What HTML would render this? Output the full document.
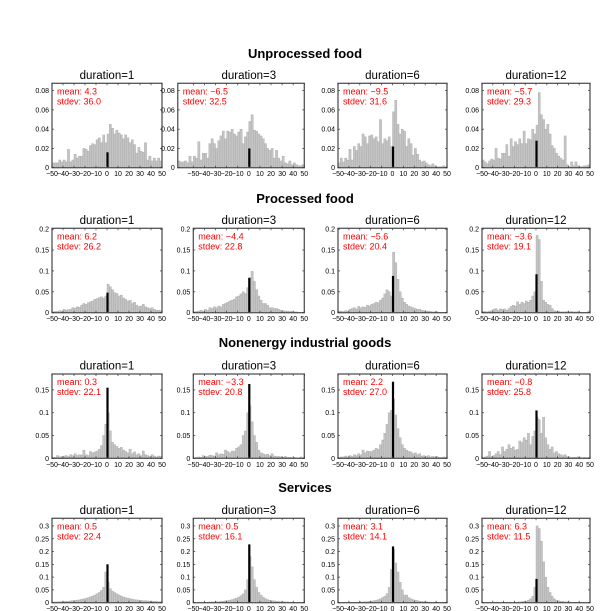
<!DOCTYPE html>
<html><head><meta charset="utf-8"><style>
html,body{margin:0;padding:0;background:#fff;}
svg{display:block;font-family:"Liberation Sans",sans-serif;}
</style></head><body>
<svg id="c" width="600" height="611" viewBox="0 0 600 611"></svg>
<script>
const rowTitles=["Unprocessed food","Processed food","Nonenergy industrial goods","Services"];
const durations=[1,3,6,12];
const means=[["4.3","\u22126.5","\u22129.5","\u22125.7"],["6.2","\u22124.4","\u22125.6","\u22123.6"],["0.3","\u22123.3","2.2","\u22120.8"],["0.5","0.5","3.1","6.3"]];
const stdevs=[["36.0","32.5","31.6","29.3"],["26.2","22.8","20.4","19.1"],["22.1","20.8","27.0","25.8"],["22.4","16.1","14.1","11.5"]];
const yMax=[0.0876,0.202,0.185,0.33];
const yTicks=[[0,0.02,0.04,0.06,0.08],[0,0.05,0.1,0.15,0.2],[0,0.05,0.1,0.15],[0,0.05,0.1,0.15,0.2,0.25,0.3]];
const yTickLabels=[["0","0.02","0.04","0.06","0.08"],["0","0.05","0.1","0.15","0.2"],["0","0.05","0.1","0.15"],["0","0.05","0.1","0.15","0.2","0.25","0.3"]];
const xTicks=[-50,-40,-30,-20,-10,0,10,20,30,40,50];
// negative-side bins (ending at 0), zero-change bar, positive-side bins (starting at 0)
const neg=[
[[0.005,0.005,0.005,0.008,0.006,0.008,0.006,0.019,0.006,0.008,0.014,0.010,0.012,0.012,0.020,0.019,0.017,0.023,0.025,0.024,0.029,0.031,0.026,0.034,0.026],
 [0.007,0.006,0.006,0.007,0.005,0.012,0.006,0.012,0.010,0.027,0.008,0.015,0.015,0.010,0.025,0.030,0.025,0.020,0.028,0.033,0.038,0.030,0.038,0.037,0.040,0.035,0.033,0.037,0.040,0.025,0.032,0.037],
 [0.005,0.010,0.006,0.010,0.008,0.019,0.008,0.022,0.018,0.025,0.022,0.035,0.032,0.025,0.033,0.034,0.030,0.032,0.027,0.050,0.025,0.030,0.028,0.032,0.022],
 [0.008,0.006,0.004,0.007,0.009,0.008,0.020,0.010,0.009,0.015,0.015,0.024,0.012,0.030,0.022,0.027,0.024,0.030,0.025,0.038,0.025,0.030,0.029,0.040,0.035]],
[[0.002,0.003,0.003,0.005,0.004,0.008,0.006,0.007,0.008,0.012,0.011,0.014,0.013,0.018,0.022,0.020,0.024,0.026,0.028,0.032,0.034,0.036,0.038,0.035,0.040],
 [0.002,0.003,0.004,0.006,0.004,0.008,0.006,0.012,0.010,0.014,0.012,0.016,0.014,0.020,0.022,0.025,0.028,0.030,0.032,0.038,0.040,0.045,0.050,0.046,0.060],
 [0.004,0.004,0.003,0.005,0.004,0.008,0.010,0.012,0.009,0.015,0.012,0.014,0.013,0.018,0.016,0.020,0.022,0.025,0.024,0.030,0.035,0.045,0.055,0.050,0.040],
 [0.003,0.003,0.002,0.004,0.005,0.008,0.010,0.006,0.009,0.008,0.009,0.006,0.010,0.015,0.018,0.016,0.026,0.020,0.025,0.022,0.028,0.025,0.030,0.040,0.050]],
[[0.002,0.002,0.006,0.003,0.004,0.005,0.006,0.004,0.008,0.006,0.010,0.006,0.008,0.007,0.018,0.008,0.006,0.015,0.012,0.014,0.016,0.020,0.028,0.050,0.075],
 [0.001,0.002,0.003,0.002,0.006,0.004,0.004,0.007,0.006,0.005,0.012,0.008,0.010,0.009,0.018,0.015,0.012,0.016,0.015,0.022,0.025,0.030,0.050,0.060,0.100],
 [0.002,0.003,0.003,0.005,0.003,0.006,0.004,0.008,0.006,0.010,0.008,0.018,0.012,0.016,0.015,0.015,0.018,0.022,0.020,0.030,0.040,0.055,0.075,0.100,0.105],
 [0.002,0.003,0.005,0.015,0.004,0.006,0.010,0.015,0.008,0.025,0.015,0.020,0.030,0.022,0.025,0.018,0.020,0.038,0.035,0.045,0.040,0.055,0.030,0.048,0.060]],
[[0.002,0.003,0.003,0.004,0.004,0.005,0.006,0.006,0.007,0.008,0.009,0.010,0.011,0.013,0.015,0.017,0.020,0.023,0.026,0.030,0.035,0.040,0.048,0.060,0.120],
 [0.001,0.001,0.001,0.001,0.002,0.002,0.002,0.003,0.003,0.003,0.004,0.004,0.005,0.006,0.007,0.008,0.010,0.012,0.015,0.018,0.022,0.028,0.035,0.050,0.090],
 [0.001,0.001,0.001,0.001,0.001,0.001,0.002,0.002,0.002,0.002,0.003,0.003,0.004,0.004,0.005,0.006,0.008,0.010,0.012,0.015,0.020,0.025,0.035,0.060,0.130],
 [0.001,0.001,0.001,0.001,0.001,0.001,0.001,0.001,0.001,0.001,0.001,0.001,0.001,0.001,0.001,0.002,0.002,0.003,0.004,0.005,0.006,0.010,0.015,0.025,0.060]]
];
const zeroBar=[[0.016,0.020,0.022,0.028],[0.048,0.083,0.088,0.092],[0.155,0.163,0.168,0.105],[0.150,0.228,0.220,0.093]];
const pos=[
[[0.035,0.045,0.041,0.035,0.039,0.036,0.034,0.030,0.034,0.031,0.026,0.029,0.024,0.015,0.021,0.017,0.016,0.026,0.008,0.012,0.007,0.010,0.007,0.010,0.007],
 [0.048,0.055,0.039,0.038,0.035,0.033,0.030,0.025,0.020,0.018,0.020,0.010,0.018,0.010,0.007,0.012,0.005,0.004,0.007,0.003,0.005,0.003,0.002,0.002,0.003],
 [0.058,0.070,0.045,0.035,0.040,0.038,0.022,0.030,0.025,0.013,0.020,0.014,0.008,0.006,0.007,0.005,0.003,0.002,0.004,0.002,0.001,0.001,0.001,0.002,0.001],
 [0.044,0.078,0.055,0.050,0.040,0.045,0.035,0.023,0.020,0.015,0.012,0.010,0.008,0.033,0.003,0.001,0.006,0.002,0.006,0.002,0.001,0.001,0.002,0.002,0.003]],
[[0.068,0.062,0.055,0.048,0.046,0.040,0.042,0.035,0.032,0.028,0.030,0.022,0.025,0.018,0.015,0.016,0.020,0.014,0.012,0.010,0.012,0.008,0.006,0.006,0.005],
 [0.085,0.099,0.075,0.055,0.040,0.030,0.022,0.022,0.018,0.012,0.012,0.010,0.010,0.008,0.006,0.005,0.004,0.004,0.003,0.003,0.002,0.002,0.001,0.001,0.001],
 [0.145,0.120,0.080,0.050,0.035,0.025,0.020,0.016,0.014,0.012,0.010,0.008,0.008,0.006,0.005,0.004,0.004,0.003,0.002,0.002,0.002,0.001,0.001,0.001,0.001],
 [0.185,0.175,0.075,0.030,0.025,0.020,0.018,0.010,0.005,0.004,0.004,0.002,0.002,0.002,0.003,0.002,0.003,0.002,0.002,0.003,0.001,0.001,0.001,0.001,0.004]],
[[0.100,0.060,0.035,0.030,0.026,0.022,0.024,0.018,0.015,0.012,0.020,0.010,0.014,0.008,0.010,0.006,0.016,0.008,0.006,0.004,0.008,0.005,0.003,0.005,0.004],
 [0.115,0.080,0.050,0.035,0.018,0.012,0.010,0.008,0.009,0.006,0.010,0.005,0.004,0.004,0.003,0.002,0.004,0.002,0.002,0.001,0.002,0.001,0.001,0.003,0.001],
 [0.130,0.095,0.065,0.045,0.030,0.022,0.018,0.015,0.014,0.010,0.012,0.008,0.010,0.005,0.006,0.004,0.006,0.003,0.004,0.003,0.004,0.002,0.002,0.003,0.002],
 [0.090,0.085,0.055,0.090,0.045,0.030,0.020,0.025,0.012,0.015,0.010,0.008,0.006,0.008,0.004,0.003,0.002,0.002,0.002,0.003,0.002,0.001,0.002,0.001,0.002]],
[[0.080,0.055,0.045,0.040,0.035,0.030,0.026,0.022,0.020,0.018,0.016,0.014,0.012,0.011,0.010,0.009,0.008,0.008,0.007,0.006,0.006,0.005,0.005,0.004,0.004],
 [0.180,0.140,0.090,0.060,0.040,0.030,0.022,0.016,0.012,0.010,0.008,0.007,0.006,0.005,0.004,0.004,0.003,0.003,0.002,0.002,0.002,0.001,0.001,0.001,0.001],
 [0.210,0.155,0.120,0.080,0.050,0.030,0.030,0.020,0.015,0.012,0.010,0.008,0.006,0.005,0.004,0.004,0.003,0.002,0.002,0.002,0.001,0.001,0.001,0.001,0.001],
 [0.300,0.290,0.240,0.160,0.100,0.060,0.040,0.025,0.015,0.010,0.008,0.006,0.005,0.004,0.003,0.003,0.002,0.002,0.002,0.001,0.001,0.001,0.001,0.001,0.001]]
];
// layout
const rowTop=[83.3,228.3,374,518.3], rowBot=[167.7,312.7,458.3,602.7];
const rowTitleY=[58,203,347,492];
const colX0=[52,193.3,338,482], colX1=[162,304.3,447,590];
const NS="http://www.w3.org/2000/svg";
const svg=document.getElementById('c');
function mk(tag,attrs,parent){const e=document.createElementNS(NS,tag);for(const k in attrs)e.setAttribute(k,attrs[k]);(parent||svg).appendChild(e);return e;}
function txt(s,attrs,parent){const e=mk('text',attrs,parent);e.textContent=s;return e;}

for(let r=0;r<4;r++){
  const rt=txt(rowTitles[r],{x:305,y:rowTitleY[r],'text-anchor':'middle','font-size':13,'font-weight':'bold',fill:'#000'});
  
  
  for(let c=0;c<4;c++){
    const g=mk('g',{});
    
    
    const top=rowTop[r],bot=rowBot[r],x0=colX0[c],x1=colX1[c];
    const xs=v=>x0+(v+50)*(x1-x0)/100;
    const ys=v=>bot-v/yMax[r]*(bot-top);
    const n=neg[r][c];
    const xmin=-2*n.length;
    const boxL=Math.min(x0,xs(xmin));
    // bars
    n.forEach((v,i)=>{
      const a=-2*(n.length-i);
      const b=mk('rect',{x:xs(a),y:ys(v),width:xs(a+2)-xs(a),height:bot-ys(v),fill:'#c4c4c4',stroke:'#a8a8a8','stroke-width':0.4},g);
      
      
    });
    pos[r][c].forEach((v,i)=>{
      const a=2*i;
      const b=mk('rect',{x:xs(a),y:ys(v),width:xs(a+2)-xs(a),height:bot-ys(v),fill:'#c4c4c4',stroke:'#a8a8a8','stroke-width':0.4},g);
      
      
    });
    const z=mk('rect',{x:xs(0)-0.6,y:ys(zeroBar[r][c]),width:2.2,height:bot-ys(zeroBar[r][c]),fill:'#000'},g);
    
    
    // box
    const bx=mk('rect',{x:boxL,y:top,width:x1-boxL,height:bot-top,fill:'none',stroke:'#555','stroke-width':1.3},g);
    
    
    // y ticks
    yTicks[r].forEach((t,i)=>{
      const y=ys(t);
      mk('line',{x1:boxL,x2:boxL+2,y1:y,y2:y,stroke:'#333','stroke-width':0.7},g);
      mk('line',{x1:x1,x2:x1-2,y1:y,y2:y,stroke:'#333','stroke-width':0.7},g);
      const l=txt(yTickLabels[r][i],{x:boxL-3,y:y+2.5,'text-anchor':'end','font-size':7,fill:'#000'},g);
      
      
    });
    xTicks.forEach(t=>{
      const x=xs(t);
      mk('line',{x1:x,x2:x,y1:bot,y2:bot-2,stroke:'#333','stroke-width':0.7},g);
      mk('line',{x1:x,x2:x,y1:top,y2:top+2,stroke:'#333','stroke-width':0.7},g);
      const l=txt(t<0?'\u2212'+(-t):String(t),{x:x,y:bot+8.5,'text-anchor':'middle','font-size':7,fill:'#000'},g);
      
      
    });
    const pt=txt('duration='+durations[c],{x:(x0+x1)/2,y:top-4.5,'text-anchor':'middle','font-size':11.5,fill:'#000'},g);
    
    
    const m=txt('mean: '+means[r][c],{x:boxL+5,y:top+11,'font-size':9,fill:'#ff0000'},g);
    
    
    const s=txt('stdev: '+stdevs[r][c],{x:boxL+5,y:top+21,'font-size':9,fill:'#ff0000'},g);
    
    
  }
}
</script>
</body></html>
